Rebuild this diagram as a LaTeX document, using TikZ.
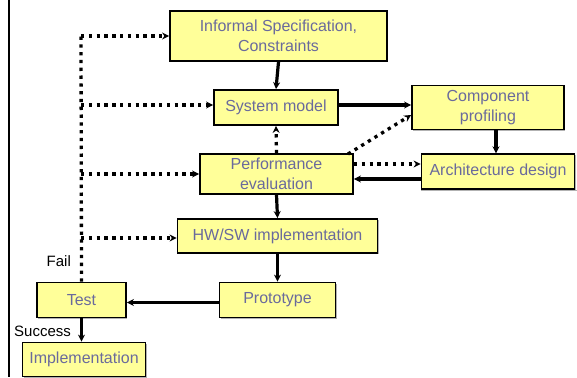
\documentclass[tikz,border=0pt]{standalone}
\usepackage{fontspec}
\setmainfont{Liberation Sans}
\usetikzlibrary{arrows.meta,shadows}
\definecolor{boxfill}{HTML}{FFFF99}
\definecolor{boxtext}{HTML}{6A6A9C}
\tikzset{
  blk/.style={draw=black, line width=1.8pt, fill=boxfill, text=boxtext, inner sep=0pt, align=center,
    font=\fontsize{16}{19.5}\selectfont,
    drop shadow={shadow xshift=1.2pt, shadow yshift=-1.2pt, fill=gray!60, opacity=1}},
  solidarrow/.style={line width=3.2pt, -{Stealth[length=7pt,width=7pt]}},
  dotline/.style={line width=3.3pt, dash pattern=on 3.3pt off 4.5pt},
  dotarrow/.style={dotline, -{Stealth[length=7pt,width=7pt]}},
  lbl/.style={font=\fontsize{15}{17}\selectfont, text=black, inner sep=0pt}
}
\begin{document}
\begin{tikzpicture}[x=1pt,y=-1pt]
\useasboundingbox (0,0) rectangle (577,377);
\fill[white] (0,0) rectangle (577,377);
\draw[line width=2pt] (9.3,0) -- (9.3,377);
\draw[gray!60, line width=1pt] (421,190) -- (577,190);

\node[blk, minimum width=217pt, minimum height=50pt] (spec) at (278.5,36) {Informal Specification,\\Constraints};
\node[blk, minimum width=124pt, minimum height=35pt] (sys) at (276,107.5) {System model};
\node[blk, minimum width=152pt, minimum height=44pt] (comp) at (488,107.5) {Component\\profiling};
\node[blk, minimum width=153pt, minimum height=40pt] (perf) at (276.5,174) {Performance\\evaluation};
\node[blk, minimum width=153pt, minimum height=34.5pt] (arch) at (498,171.5) {Architecture design};
\node[blk, minimum width=200pt, minimum height=34pt] (hwsw) at (277.5,236) {HW/SW implementation};
\node[blk, minimum width=116pt, minimum height=35pt] (proto) at (277.5,300) {Prototype};
\node[blk, minimum width=89pt, minimum height=35pt] (test) at (81.5,300) {Test};
\node[blk, minimum width=123pt, minimum height=34pt] (impl) at (84,359.5) {Implementation};

\node[lbl, anchor=west] (fail) at (46.5,261) {Fail};
\node[lbl, anchor=west] (succ) at (14,331.5) {Success};

% solid arrows
\draw[solidarrow] (spec.south) -- (sys.north);
\draw[solidarrow] (sys.east |- 0,105) -- (comp.west |- 0,105);
\draw[solidarrow] (comp.south -| 496,0) -- (arch.north -| 496,0);
\draw[solidarrow] (arch.west |- 0,179) -- (perf.east |- 0,179);
\draw[solidarrow] (perf.south) -- (hwsw.north);
\draw[solidarrow] (hwsw.south) -- (proto.north);
\draw[solidarrow] (proto.west |- 0,302.5) -- (test.east |- 0,302.5);
\draw[solidarrow] (test.south) -- (impl.north -| test.south);

% dotted feedback
\coordinate (ctop) at (81,36);
\draw[dotline] (test.north) -- (ctop);
\draw[dotarrow] (ctop) -- (spec.west |- ctop);
\draw[dotarrow] (81,105) -- (sys.west |- 0,105);
\draw[dotarrow] (81,174) -- (perf.west |- 0,174);
\draw[dotarrow] (81,238) -- (hwsw.west |- 0,238);

\draw[dotarrow] (perf.north) -- (sys.south);
\draw[dotarrow] (348,154) -- (comp.west |- 0,115);
\draw[dotarrow] (perf.east |- 0,164) -- (arch.west |- 0,164);
\end{tikzpicture}
\end{document}
